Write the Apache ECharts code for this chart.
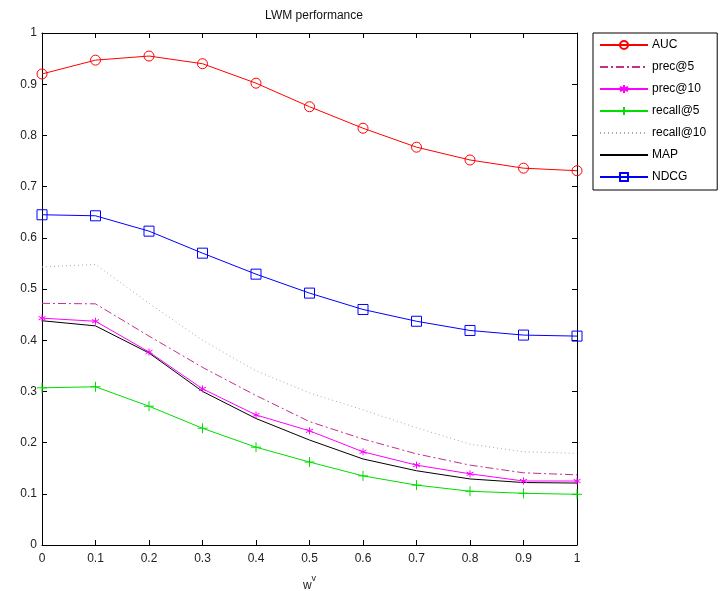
<!DOCTYPE html>
<html><head><meta charset="utf-8">
<script src="https://cdn.jsdelivr.net/npm/echarts@6/dist/echarts.min.js"></script>
<style>html,body{margin:0;padding:0;background:#fff}#c{width:720px;height:591px}</style>
</head><body><div id="c"></div>
<script>
const xVals = [0, 0.1, 0.2, 0.3, 0.4, 0.5, 0.6, 0.7, 0.8, 0.9, 1];
const auc      = [0.920, 0.947, 0.955, 0.940, 0.902, 0.856, 0.814, 0.777, 0.752, 0.736, 0.731];
const prec5    = [0.472, 0.471, 0.408, 0.347, 0.292, 0.241, 0.207, 0.178, 0.156, 0.141, 0.137];
const prec10   = [0.443, 0.437, 0.377, 0.305, 0.254, 0.223, 0.182, 0.156, 0.139, 0.125, 0.125];
const recall5  = [0.307, 0.309, 0.271, 0.228, 0.191, 0.162, 0.135, 0.117, 0.105, 0.101, 0.099];
const recall10 = [0.543, 0.548, 0.472, 0.400, 0.340, 0.297, 0.264, 0.229, 0.197, 0.182, 0.179];
const mapv     = [0.438, 0.428, 0.375, 0.300, 0.247, 0.205, 0.168, 0.145, 0.129, 0.122, 0.121];
const ndcg     = [0.645, 0.643, 0.613, 0.570, 0.529, 0.492, 0.460, 0.437, 0.419, 0.410, 0.408];
const names = ['AUC', 'prec@5', 'prec@10', 'recall@5', 'recall@10', 'MAP', 'NDCG'];

const pairs = a => a.map((v, i) => [xVals[i], v]);
const FONT = 'Liberation Sans';
const STAR = 'path://M5,0L5,10M0.7,2.5L9.3,7.5M0.7,7.5L9.3,2.5';
const PLUS = 'path://M5,0L5,10M0,5L10,5';

function mk(name, data, color, lineType, symbol, size) {
  return {
    name, type: 'line', data: pairs(data), xAxisIndex: 0, yAxisIndex: 0,
    symbol: symbol || 'none', symbolSize: size || 0, showSymbol: !!symbol,
    lineStyle: { color, width: 1, type: lineType },
    itemStyle: symbol
      ? { color: 'rgba(0,0,0,0)', borderColor: color, borderWidth: 1 }
      : { color: 'rgba(0,0,0,0)', borderColor: 'rgba(0,0,0,0)', borderWidth: 0 },
    emphasis: { disabled: true }, animation: false, z: 3
  };
}

const chart = echarts.init(document.getElementById('c'), null, { renderer: 'canvas' });
function axis(extra) {
  return Object.assign({
    type: 'value', min: 0, max: 1, interval: 0.1,
    axisLine: { show: true, onZero: false, lineStyle: { color: '#000', width: 1 } },
    axisTick: { show: true, inside: true, length: 5, lineStyle: { color: '#000' } },
    splitLine: { show: false }
  }, extra);
}
chart.setOption({
  backgroundColor: '#fff',
  animation: false,
  title: {
    text: 'LWM performance', left: 309, top: 5, textAlign: 'center',
    textStyle: { fontFamily: FONT, fontSize: 12, fontWeight: 'normal', color: '#111' }
  },
  grid: { left: 42, right: 143, top: 33, bottom: 46, containLabel: false, outerBoundsMode: 'none' },
  legend: {
    orient: 'vertical', left: 593, top: 33,
    backgroundColor: '#fff', borderColor: '#000', borderWidth: 1, borderRadius: 0,
    padding: [6, 11, 7, 6], itemGap: 10, itemWidth: 48, itemHeight: 10,
    textStyle: { fontFamily: FONT, fontSize: 12, color: '#000', padding: [0, 0, 0, -1] },
    data: names
  },
  xAxis: [
    axis({
      position: 'bottom',
      axisLabel: { color: '#222', fontFamily: FONT, fontSize: 12, margin: 8 },
      name: '{w|w}{s|v}', nameLocation: 'middle', nameGap: 29,
      nameTextStyle: { rich: {
        w: { fontFamily: FONT, fontSize: 12, color: '#222', verticalAlign: 'bottom', padding: [6, 0, 0, 0] },
        s: { fontFamily: FONT, fontSize: 9, color: '#222', verticalAlign: 'top', padding: [0, 0, 6, 0] }
      } }
    }),
    axis({ position: 'top', axisLabel: { show: false } })
  ],
  yAxis: [
    axis({
      position: 'left',
      axisLabel: { color: '#222', fontFamily: FONT, fontSize: 12, margin: 5 }
    }),
    axis({ position: 'right', axisLabel: { show: false } })
  ],
  series: [
    mk('AUC', auc, '#ff0000', 'solid', 'circle', 10),
    mk('prec@5', prec5, '#c0308f', [8, 3, 2, 3], null),
    mk('prec@10', prec10, '#ff00ff', 'solid', STAR, 7),
    mk('recall@5', recall5, '#00dd00', 'solid', PLUS, 10),
    mk('recall@10', recall10, '#aaaaaa', [1, 3], null),
    mk('MAP', mapv, '#000000', 'solid', null),
    mk('NDCG', ndcg, '#0000ff', 'solid', 'rect', 10)
  ]
});
</script>
</body></html>
